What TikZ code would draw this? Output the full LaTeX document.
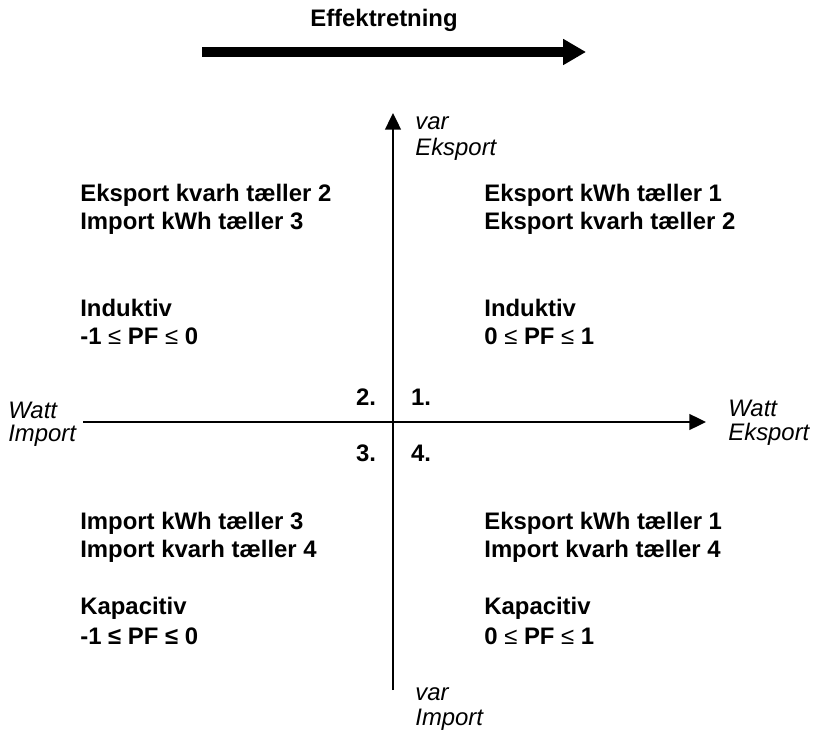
\documentclass[tikz,border=0pt]{standalone}
\usepackage{fontspec}
\setmainfont{Liberation Sans}
\usetikzlibrary{arrows.meta}
\tikzset{
  qtext/.style={anchor=west, font=\bfseries\fontsize{13.6}{16}\selectfont, inner sep=0pt},
  axlab/.style={anchor=west, font=\itshape\fontsize{13.6}{16}\selectfont, inner sep=0pt},
  qnum/.style={font=\bfseries\fontsize{13.6}{16}\selectfont, inner sep=0pt},
  axis/.style={line width=1.1pt, -{Triangle[length=9.5pt, width=9pt]}}
}
\newcommand{\tynd}{\textmd{≤}}
\begin{document}
\begin{tikzpicture}[x=0.02cm, y=-0.02cm]
  \useasboundingbox (0,0) rectangle (813,732);

  \node[font=\bfseries\fontsize{13.6}{16}\selectfont] (titel) at (384,20) {Effektretning};
  \coordinate (pstart) at (202,52);
  \coordinate (pend) at (586,52);
  \draw[line width=5.7pt, -{Triangle[length=13pt, width=14pt]}] (pstart) -- (pend);

  % akser
  \coordinate (vbund) at (393,690);
  \coordinate (vtop) at (393,113);
  \coordinate (hvenstre) at (83,422);
  \coordinate (hhojre) at (706,422);
  \draw[axis] (vbund) -- (vtop);
  \draw[axis] (hvenstre) -- (hhojre);

  \node[axlab] (vartop) at (415,123) {var};
  \node[axlab] (varek) at (415,149) {Eksport};
  \node[axlab] (varbund) at (415,694) {var};
  \node[axlab] (varimp) at (415,720) {Import};
  \node[axlab] (wattv) at (8,410) {Watt};
  \node[axlab] (wattimp) at (8,436) {Import};
  \node[axlab] (watth) at (728,408) {Watt};
  \node[axlab] (wattek) at (728,434) {Eksport};

  \node[qnum] (n2) at (366,397) {2.};
  \node[qnum] (n1) at (421,397) {1.};
  \node[qnum] (n3) at (366,453) {3.};
  \node[qnum] (n4) at (421,453) {4.};

  % kvadranter
  \foreach \x/\y/\lab in {
      80/195/Eksport kvarh tæller 2, 80/223/Import kWh tæller 3,
      80/308/Induktiv, 80/336/-1 \tynd{} PF \tynd{} 0,
      484/195/Eksport kWh tæller 1, 484/223/Eksport kvarh tæller 2,
      484/308/Induktiv, 484/336/0 \tynd{} PF \tynd{} 1,
      80/523/Import kWh tæller 3, 80/551/Import kvarh tæller 4,
      80/608/Kapacitiv, 80/636/-1 ≤ PF ≤ 0,
      484/523/Eksport kWh tæller 1, 484/551/Import kvarh tæller 4,
      484/608/Kapacitiv, 484/636/0 \tynd{} PF \tynd{} 1} {
    \node[qtext] at (\x,\y) {\lab};
  }
\end{tikzpicture}
\end{document}
